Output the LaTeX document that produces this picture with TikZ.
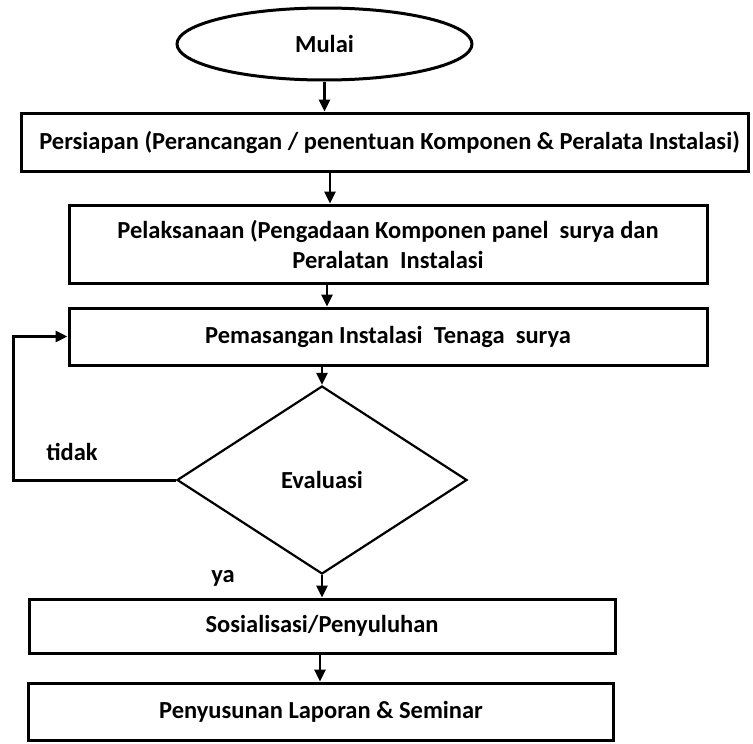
\documentclass[tikz,border=0pt]{standalone}
\usepackage{fontspec}
\setmainfont{Carlito}
\usetikzlibrary{shapes.geometric,arrows.meta}
\begin{document}
\begin{tikzpicture}[x=1pt,y=-1pt,
  every node/.style={font=\bfseries\fontsize{24.5}{30}\selectfont, inner sep=0pt, text=black},
  procbox/.style={draw, line width=3pt, rectangle, align=center},
  arr/.style={line width=2.6pt, -{Triangle[length=12pt,width=11pt]}}]
\useasboundingbox (0,0) rectangle (753,744);
\node[draw, ellipse, line width=3pt, minimum width=295pt, minimum height=72pt] (start) at (324.5,44) {Mulai};
\node[procbox, minimum width=727pt, minimum height=58pt] (b1) at (384.5,142) {\hspace*{10pt}Persiapan (Perancangan / penentuan Komponen \& Peralata Instalasi)};
\node[procbox, minimum width=638pt, minimum height=78pt] (b2) at (388,244) {Pelaksanaan (Pengadaan Komponen panel\ \ surya dan\\Peralatan\ \ Instalasi};
\node[procbox, minimum width=638pt, minimum height=57pt] (b3) at (388,336.5) {Pemasangan Instalasi\ \ Tenaga\ \ surya};
\node[draw, diamond, line width=2.2pt, minimum width=290pt, minimum height=188pt] (d) at (322,480) {Evaluasi};
\node[procbox, minimum width=586pt, minimum height=54pt] (b4) at (322,626) {Sosialisasi/Penyuluhan};
\node[procbox, minimum width=585pt, minimum height=57pt] (b5) at (321,711.5) {Penyusunan Laporan \& Seminar};
\node (tidak) at (72,452) {tidak};
\node (ya) at (223,578) {ya};
\coordinate (ax1) at (327,0);
\coordinate (ax2) at (330,0);
\coordinate (ax3) at (320,0);
\coordinate (fb) at (13,0);
\draw[arr] (start.south) -- (start.south |- b1.north);
\draw[arr] (b1.south -| ax2) -- (b2.north -| ax2);
\draw[arr] (b2.south -| ax1) -- (b3.north -| ax1);
\draw[arr] (b3.south -| d.north) -- (d.north);
\draw[arr] (d.south) -- (d.south |- b4.north);
\draw[arr] (b4.south -| ax3) -- (b5.north -| ax3);
\draw[arr, line width=3pt] (d.west) -- (d.west -| fb) -- (b3.west -| fb) -- (b3.west);
\end{tikzpicture}
\end{document}
